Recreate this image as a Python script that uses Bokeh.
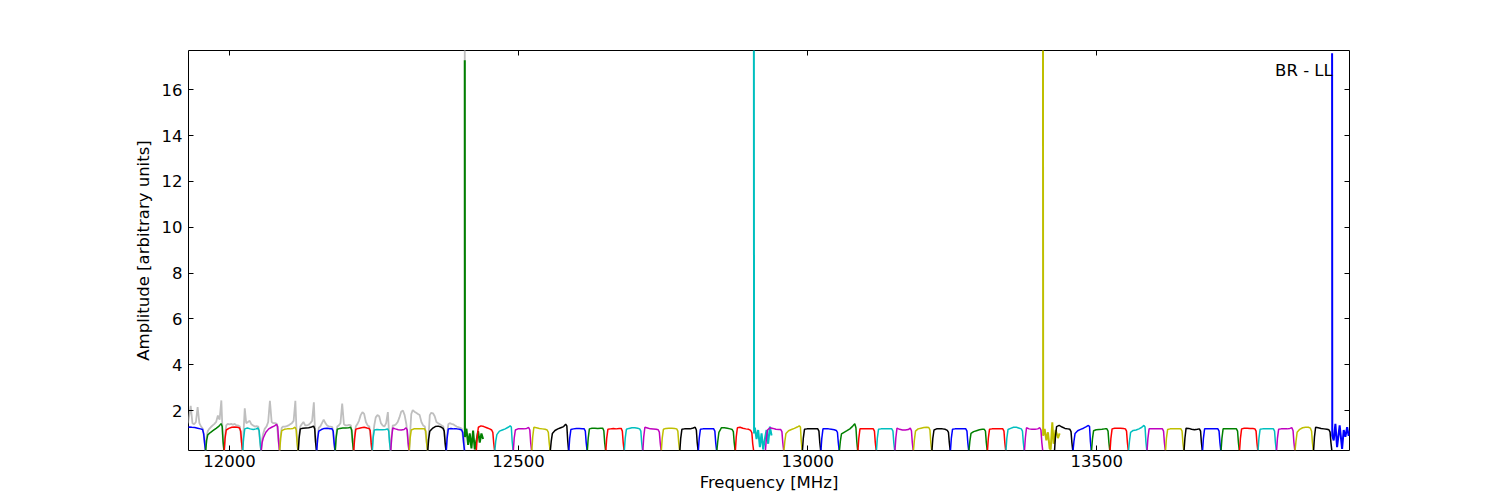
from bokeh.plotting import figure
from bokeh.models import Range1d, LinearAxis, FixedTicker, Label, ColumnDataSource
from bokeh.embed import file_html
from bokeh.resources import INLINE

# ---------------- data ----------------
GROUP_START_MHZ = [11926.9, 12426.9, 12926.9, 13426.9]
WINDOW_OFFSET_MHZ = [0, 32, 64, 96, 128, 160, 192, 224, 256, 288, 320, 352, 384, 416, 448, 480]
CHAN_OFF_MHZ = [0, 1.5, 3.5, 8, 13, 18, 23, 26.5, 28.5, 30, 31.5]
COLOR_CYCLE = ["#0000ff", "#008000", "#ff0000", "#00bfbf", "#bf00bf", "#bfbf00", "#000000"]

WINDOW_AMP = [
    [1.25, 1.27, 1.28, 1.27, 1.26, 1.23, 1.2, 1.17, 0.98, 0.6, 0.26],
    [0.26, 0.7, 0.94, 1.04, 1.13, 1.22, 1.32, 1.43, 1.3, 0.65, 0.26],
    [0.26, 0.8, 1.15, 1.22, 1.27, 1.28, 1.27, 1.24, 1.1, 0.62, 0.26],
    [0.26, 0.8, 1.2, 1.24, 1.2, 1.17, 1.2, 1.24, 1.12, 0.62, 0.26],
    [0.26, 0.6, 0.8, 1.05, 1.2, 1.27, 1.33, 1.4, 1.3, 0.65, 0.26],
    [0.26, 0.8, 1.12, 1.18, 1.2, 1.2, 1.22, 1.27, 1.15, 0.62, 0.26],
    [0.26, 0.8, 1.2, 1.23, 1.24, 1.25, 1.28, 1.32, 1.2, 0.62, 0.26],
    [0.26, 0.75, 1.1, 1.17, 1.22, 1.23, 1.21, 1.2, 1.1, 0.6, 0.26],
    [0.26, 0.8, 1.18, 1.22, 1.24, 1.24, 1.25, 1.27, 1.15, 0.62, 0.26],
    [0.26, 0.8, 1.18, 1.22, 1.25, 1.27, 1.24, 1.22, 1.12, 0.62, 0.26],
    [0.26, 0.8, 1.15, 1.17, 1.16, 1.16, 1.17, 1.2, 1.1, 0.6, 0.26],
    [0.26, 0.8, 1.24, 1.2, 1.16, 1.15, 1.17, 1.25, 1.15, 0.6, 0.26],
    [0.26, 0.8, 1.15, 1.2, 1.21, 1.21, 1.2, 1.2, 1.1, 0.6, 0.26],
    [0.26, 0.75, 1.1, 1.22, 1.3, 1.32, 1.28, 1.22, 1.1, 0.6, 0.26],
    [0.26, 0.8, 1.2, 1.22, 1.2, 1.2, 1.18, 1.15, 1.05, 0.6, 0.26],
    None,
    [0.26, 0.85, 1.27, 1.33, 1.3, 1.25, 1.2, 1.15, 1.05, 0.6, 0.26],
    [0.26, 0.65, 0.95, 1.1, 1.15, 1.2, 1.27, 1.33, 1.28, 0.65, 0.26],
    [0.26, 0.8, 1.15, 1.2, 1.2, 1.2, 1.22, 1.26, 1.15, 0.6, 0.26],
    [0.26, 0.85, 1.27, 1.25, 1.22, 1.2, 1.18, 1.15, 1.05, 0.6, 0.26],
    [0.26, 0.65, 1.0, 1.13, 1.2, 1.25, 1.3, 1.4, 1.33, 0.7, 0.26],
    [0.26, 0.8, 1.17, 1.2, 1.22, 1.22, 1.21, 1.2, 1.1, 0.6, 0.26],
    [0.26, 0.8, 1.2, 1.23, 1.23, 1.22, 1.23, 1.23, 1.12, 0.6, 0.26],
    [0.26, 0.8, 1.18, 1.2, 1.22, 1.2, 1.22, 1.22, 1.1, 0.6, 0.26],
    [0.26, 0.8, 1.18, 1.22, 1.25, 1.25, 1.23, 1.2, 1.1, 0.6, 0.26],
    [0.26, 0.85, 1.27, 1.24, 1.2, 1.19, 1.18, 1.16, 1.06, 0.6, 0.26],
    [0.26, 0.8, 1.18, 1.22, 1.23, 1.23, 1.22, 1.2, 1.1, 0.6, 0.26],
    [0.26, 0.8, 1.18, 1.2, 1.2, 1.2, 1.24, 1.27, 1.15, 0.6, 0.26],
    [0.26, 0.8, 1.18, 1.2, 1.2, 1.2, 1.2, 1.2, 1.1, 0.6, 0.26],
    [0.26, 0.65, 1.05, 1.25, 1.25, 1.23, 1.2, 1.17, 1.08, 0.6, 0.26],
    [0.26, 0.85, 1.25, 1.27, 1.23, 1.2, 1.18, 1.13, 1.03, 0.55, 0.26],
    None,
    [0.26, 0.75, 1.15, 1.25, 1.22, 1.18, 1.17, 1.17, 1.08, 0.6, 0.26],
    [0.26, 0.65, 1.0, 1.12, 1.17, 1.22, 1.28, 1.33, 1.28, 0.65, 0.26],
    [0.26, 0.8, 1.18, 1.2, 1.21, 1.2, 1.2, 1.2, 1.1, 0.6, 0.26],
    [0.26, 0.8, 1.2, 1.2, 1.2, 1.18, 1.16, 1.13, 1.05, 0.6, 0.26],
    [0.26, 0.65, 0.98, 1.05, 1.12, 1.2, 1.32, 1.42, 1.25, 0.65, 0.26],
    [0.26, 0.8, 1.2, 1.2, 1.21, 1.2, 1.2, 1.2, 1.1, 0.6, 0.26],
    [0.26, 0.8, 1.18, 1.2, 1.2, 1.21, 1.2, 1.2, 1.1, 0.6, 0.26],
    [0.26, 0.8, 1.23, 1.18, 1.15, 1.15, 1.17, 1.23, 1.12, 0.6, 0.26],
    [0.26, 0.7, 1.1, 1.2, 1.23, 1.26, 1.27, 1.26, 1.15, 0.6, 0.26],
    [0.26, 0.8, 1.15, 1.2, 1.2, 1.2, 1.18, 1.13, 1.05, 0.6, 0.26],
    [0.26, 0.8, 1.18, 1.2, 1.2, 1.21, 1.2, 1.2, 1.1, 0.6, 0.26],
    [0.26, 0.65, 1.0, 1.08, 1.12, 1.16, 1.18, 1.18, 1.1, 0.6, 0.26],
    [0.26, 0.8, 1.18, 1.2, 1.2, 1.2, 1.21, 1.2, 1.1, 0.6, 0.26],
    [0.26, 0.8, 1.17, 1.22, 1.27, 1.27, 1.23, 1.2, 1.1, 0.6, 0.26],
    [0.26, 0.8, 1.25, 1.2, 1.18, 1.18, 1.2, 1.25, 1.15, 0.6, 0.26],
    None,
    [0.26, 0.85, 1.3, 1.35, 1.28, 1.22, 1.2, 1.18, 1.08, 0.6, 0.26],
    [0.26, 0.65, 1.0, 1.12, 1.18, 1.23, 1.3, 1.35, 1.3, 0.65, 0.26],
    [0.26, 0.75, 1.12, 1.16, 1.17, 1.18, 1.2, 1.2, 1.1, 0.6, 0.26],
    [0.26, 0.8, 1.2, 1.23, 1.23, 1.23, 1.22, 1.2, 1.1, 0.6, 0.26],
    [0.26, 0.65, 1.05, 1.13, 1.15, 1.2, 1.27, 1.35, 1.28, 0.65, 0.26],
    [0.26, 0.8, 1.2, 1.2, 1.2, 1.21, 1.2, 1.2, 1.1, 0.6, 0.26],
    [0.26, 0.8, 1.17, 1.2, 1.2, 1.2, 1.2, 1.2, 1.1, 0.6, 0.26],
    [0.26, 0.8, 1.23, 1.22, 1.18, 1.16, 1.18, 1.2, 1.1, 0.6, 0.26],
    [0.26, 0.8, 1.2, 1.2, 1.21, 1.2, 1.2, 1.2, 1.1, 0.6, 0.26],
    [0.26, 0.8, 1.2, 1.2, 1.2, 1.2, 1.21, 1.2, 1.1, 0.6, 0.26],
    [0.26, 0.8, 1.2, 1.23, 1.23, 1.22, 1.22, 1.2, 1.1, 0.6, 0.26],
    [0.26, 0.8, 1.18, 1.2, 1.2, 1.2, 1.2, 1.2, 1.1, 0.6, 0.26],
    [0.26, 0.8, 1.18, 1.2, 1.2, 1.2, 1.22, 1.25, 1.12, 0.6, 0.26],
    [0.26, 0.65, 1.05, 1.18, 1.25, 1.27, 1.27, 1.23, 1.1, 0.6, 0.26],
    [0.26, 0.85, 1.27, 1.25, 1.22, 1.2, 1.18, 1.16, 1.06, 0.6, 0.26],
    None,
]

# last window of each 500 MHz group: spike at its first channel, then noisy
SPIKE_OFF_MHZ = {
    15: [0, 0.3, 2.9, 5.8, 8.6, 11.5, 14.4, 17.3, 20.2, 23.1, 25.9, 28.8, 31.7],
    31: [0, 0.3, 1.7, 4.6, 7.4, 10.4, 13.3, 16.1, 19.0, 21.9, 24.7, 27.7, 30.6],
    47: [0, 0.3, 2.9, 5.8, 8.6, 11.5, 13.3, 16.1, 18.4, 21.9, 25.9, 28.8],
    63: [0, 0.3, 2.8, 5.7, 8.6, 13.1, 17.3, 20.1, 23.0, 26.0, 28.7, 31.6],
}
SPIKE_AMP = {
    15: [17.28, 0.84, 1.2, 0.5, 1.0, 0.35, 1.13, 0.3, 0.69, 1.1, 0.6, 1.0, 0.76],
    31: [18.2, 1.0, 1.25, 0.75, 1.15, 0.4, 1.0, 0.3, 0.76, 1.15, 0.55, 1.3, 0.91],
    47: [18.2, 0.9, 1.2, 0.7, 1.05, 0.35, 0.3, 1.49, 0.55, 1.15, 0.8, 1.0],
    63: [17.59, 0.9, 0.7, 1.42, 0.4, 1.35, 0.33, 1.15, 0.85, 1.27, 0.9, 1.13],
}

# grey trace (first group, windows 0..14) plus its spike
GRAY_OFF_MHZ = [0, 1.5, 3.5, 6, 9, 12, 15, 18, 21, 24, 27, 29.5, 31.5]
GRAY_AMP = [
    [1.4, 1.5, 1.8, 2.2, 1.45, 1.4, 1.5, 2.15, 1.45, 1.3, 1.2, 0.75, 0.26],
    [0.26, 0.85, 1.1, 1.2, 1.28, 1.35, 1.42, 1.5, 1.78, 1.6, 2.44, 0.8, 0.26],
    [0.26, 0.9, 1.35, 1.42, 1.4, 1.42, 1.38, 1.42, 1.35, 1.35, 1.3, 0.75, 0.26],
    [0.26, 1.1, 2.1, 1.45, 1.5, 1.55, 1.4, 1.35, 1.3, 1.32, 1.3, 0.75, 0.26],
    [0.26, 0.75, 1.0, 1.2, 1.3, 1.5, 2.42, 1.5, 1.45, 1.45, 1.42, 0.75, 0.26],
    [0.26, 0.9, 1.25, 1.3, 1.3, 1.32, 1.35, 1.4, 1.45, 1.55, 2.42, 0.8, 0.26],
    [0.26, 0.9, 1.3, 1.4, 1.5, 1.35, 1.35, 1.38, 1.45, 1.55, 2.36, 0.8, 0.26],
    [0.26, 0.85, 1.25, 1.3, 1.45, 1.6, 1.45, 1.35, 1.3, 1.3, 1.28, 0.7, 0.26],
    [0.26, 0.9, 1.3, 1.35, 1.45, 2.3, 1.4, 1.35, 1.35, 1.38, 1.35, 0.75, 0.26],
    [0.26, 0.9, 1.3, 1.4, 1.55, 1.8, 1.93, 1.85, 1.5, 1.35, 1.3, 0.75, 0.26],
    [0.26, 0.9, 1.35, 1.7, 1.8, 1.75, 1.45, 1.35, 1.3, 1.45, 1.93, 0.8, 0.26],
    [0.26, 0.9, 1.35, 1.35, 1.4, 1.5, 1.7, 1.95, 2.0, 1.8, 1.4, 0.75, 0.26],
    [0.26, 1.0, 1.85, 2.02, 1.95, 1.9, 1.85, 1.8, 1.5, 1.35, 1.3, 0.75, 0.26],
    [0.26, 0.95, 1.8, 1.9, 1.88, 1.75, 1.5, 1.45, 1.4, 1.35, 1.3, 0.75, 0.26],
    [0.26, 0.95, 1.4, 1.45, 1.42, 1.4, 1.35, 1.3, 1.28, 1.25, 1.2, 0.7, 0.26],
]
GRAY_SPIKE_OFF_MHZ = [0, 0.3, 2.9]
GRAY_SPIKE_AMP = [19.0, 1.0, 1.25]

X_TICKS = [12000, 12500, 13000, 13500]
Y_TICKS = [2, 4, 6, 8, 10, 12, 14, 16]
X_LIMITS = (11929.1, 13937.0)
Y_LIMITS = (0.256, 17.71)
PANEL_LABEL = "BR - LL"
LABEL_POS = (13908.0, 16.85)

FONT = "DejaVu Sans"
FS = "16.5px"

# ---------------- build series ----------------
window_starts = [g + o for g in GROUP_START_MHZ for o in WINDOW_OFFSET_MHZ]

xs, ys, cols, lws = [], [], [], []
for i, start in enumerate(window_starts):
    if WINDOW_AMP[i] is None:
        offs, amps, lw = SPIKE_OFF_MHZ[i], SPIKE_AMP[i], 2.0
    else:
        offs, amps, lw = CHAN_OFF_MHZ, WINDOW_AMP[i], 1.5
    xs.append([start + o for o in offs])
    ys.append(list(amps))
    cols.append(COLOR_CYCLE[i % len(COLOR_CYCLE)])
    lws.append(lw)

gx, gy = [], []
for i, amps in enumerate(GRAY_AMP):
    gx.extend([window_starts[i] + o for o in GRAY_OFF_MHZ])
    gy.extend(amps)
gx.extend([window_starts[15] + o for o in GRAY_SPIKE_OFF_MHZ])
gy.extend(GRAY_SPIKE_AMP)

# ---------------- figure ----------------
p = figure(frame_width=1161, frame_height=400,
           x_range=Range1d(*X_LIMITS), y_range=Range1d(*Y_LIMITS),
           output_backend="svg", toolbar_location=None,
           min_border_left=188, min_border_right=143,
           min_border_top=50, min_border_bottom=40)
p.grid.visible = False
p.outline_line_color = "black"
p.outline_line_width = 1
p.outline_line_alpha = 1
p.background_fill_color = "white"
p.border_fill_color = "white"

p.line(gx, gy, color="#bfbfbf", line_width=1.8)
src = ColumnDataSource(dict(xs=xs, ys=ys, color=cols, lw=lws))
p.multi_line("xs", "ys", source=src, line_color="color", line_width="lw")

p.add_layout(LinearAxis(), "above")
p.add_layout(LinearAxis(), "right")

for ax in p.xaxis:
    ax.ticker = FixedTicker(ticks=X_TICKS)
for ax in p.yaxis:
    ax.ticker = FixedTicker(ticks=Y_TICKS)

for ax in list(p.xaxis) + list(p.yaxis):
    ax.axis_line_color = None
    ax.major_tick_in = 5
    ax.major_tick_out = 0
    ax.minor_tick_in = 0
    ax.minor_tick_out = 0
    ax.major_tick_line_color = "black"
    ax.major_tick_line_width = 1
    ax.major_label_text_font = FONT
    ax.major_label_text_font_size = FS
    ax.major_label_text_color = "black"
    ax.major_label_standoff = 6
    ax.axis_label_text_font = FONT
    ax.axis_label_text_font_size = FS
    ax.axis_label_text_font_style = "normal"
    ax.axis_label_text_color = "black"

p.above[0].major_label_text_color = None
p.right[0].major_label_text_color = None

p.below[0].axis_label = "Frequency [MHz]"
p.below[0].major_label_standoff = 4
p.below[0].axis_label_standoff = 3
p.left[0].axis_label = "Amplitude [arbitrary units]"
p.left[0].axis_label_standoff = 6

p.add_layout(Label(x=LABEL_POS[0], y=LABEL_POS[1], text=PANEL_LABEL,
                   text_align="right", text_baseline="alphabetic",
                   text_font=FONT, text_font_size=FS, text_color="black"))

open("out.html", "w").write(file_html(p, INLINE))
